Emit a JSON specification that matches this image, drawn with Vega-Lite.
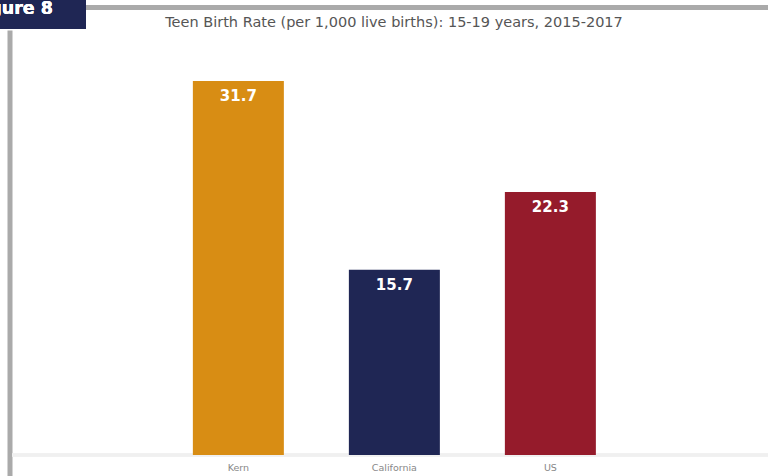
{
  "$schema": "https://vega.github.io/schema/vega-lite/v6.json",
  "autosize": {"type": "none"},
  "width": 756,
  "height": 446,
  "padding": {"left": 12, "top": 30, "right": 0, "bottom": 0},
  "background": "white",
  "config": {"view": {"stroke": null}},
  "title": {
    "text": "Teen Birth Rate (per 1,000 live births): 15-19 years, 2015-2017",
    "font": "DejaVu Sans",
    "fontSize": 14.5,
    "fontWeight": "normal",
    "color": "#555555",
    "offset": 0,
    "dy": 30.5,
    "dx": 4
  },
  "data": {
    "values": [
      {"region": "Kern", "rate": 31.7},
      {"region": "California", "rate": 15.7},
      {"region": "US", "rate": 22.3}
    ]
  },
  "resolve": {"scale": {"x": "independent"}, "axis": {"x": "independent"}},
  "layer": [
    {
      "mark": {"type": "rule", "color": "#f0f0f0", "strokeWidth": 3},
      "encoding": {
        "y": {
          "datum": 0,
          "type": "quantitative",
          "scale": {"domain": [-1.78, 36.02], "nice": false, "zero": false},
          "axis": {
            "domain": true,
            "domainColor": "#aaaaaa",
            "domainWidth": 5,
            "ticks": false,
            "labels": false,
            "grid": false,
            "title": null,
            "offset": 2.5
          }
        }
      }
    },
    {
      "layer": [
        {
          "mark": {"type": "bar", "width": 91},
          "encoding": {
            "x": {
              "field": "region",
              "type": "nominal",
              "sort": null,
              "scale": {"paddingInner": 0.154, "paddingOuter": 1, "align": 0.514},
              "axis": null
            },
            "y": {"field": "rate", "type": "quantitative"},
            "y2": {"datum": 0},
            "color": {
              "field": "region",
              "type": "nominal",
              "scale": {"domain": ["Kern", "California", "US"], "range": ["#D88D14", "#1F2654", "#951B2B"]},
              "legend": null
            }
          }
        },
        {
          "mark": {"type": "text", "color": "white", "font": "DejaVu Sans", "fontWeight": "bold", "fontSize": 15, "baseline": "middle", "dy": 15.5},
          "encoding": {
            "x": {"field": "region", "type": "nominal", "sort": null},
            "y": {"field": "rate", "type": "quantitative"},
            "text": {"field": "rate", "type": "quantitative", "format": ".1f"}
          }
        },
        {
          "mark": {"type": "text", "color": "#888888", "font": "DejaVu Sans", "fontSize": 9.5, "baseline": "middle"},
          "encoding": {
            "x": {"field": "region", "type": "nominal", "sort": null},
            "y": {"datum": -1.1},
            "text": {"field": "region", "type": "nominal"}
          }
        }
      ]
    },
    {
      "mark": {"type": "rule", "color": "#aaaaaa", "strokeWidth": 5},
      "encoding": {"y": {"datum": 37.92}}
    },
    {
      "layer": [
        {
          "mark": {"type": "rect", "color": "#1F2654"},
          "encoding": {
            "x": {"datum": -12, "type": "quantitative", "scale": {"domain": [0, 756], "nice": false, "zero": false}, "axis": null},
            "x2": {"datum": 74},
            "y": {"datum": 38.6},
            "y2": {"datum": 36.1}
          }
        },
        {
          "mark": {"type": "text", "color": "white", "font": "DejaVu Sans", "fontWeight": "bold", "fontSize": 17.5, "align": "right", "baseline": "alphabetic"},
          "encoding": {
            "x": {"datum": 41, "type": "quantitative"},
            "y": {"datum": 37.36},
            "text": {"value": "Figure 8"}
          }
        }
      ]
    }
  ]
}
